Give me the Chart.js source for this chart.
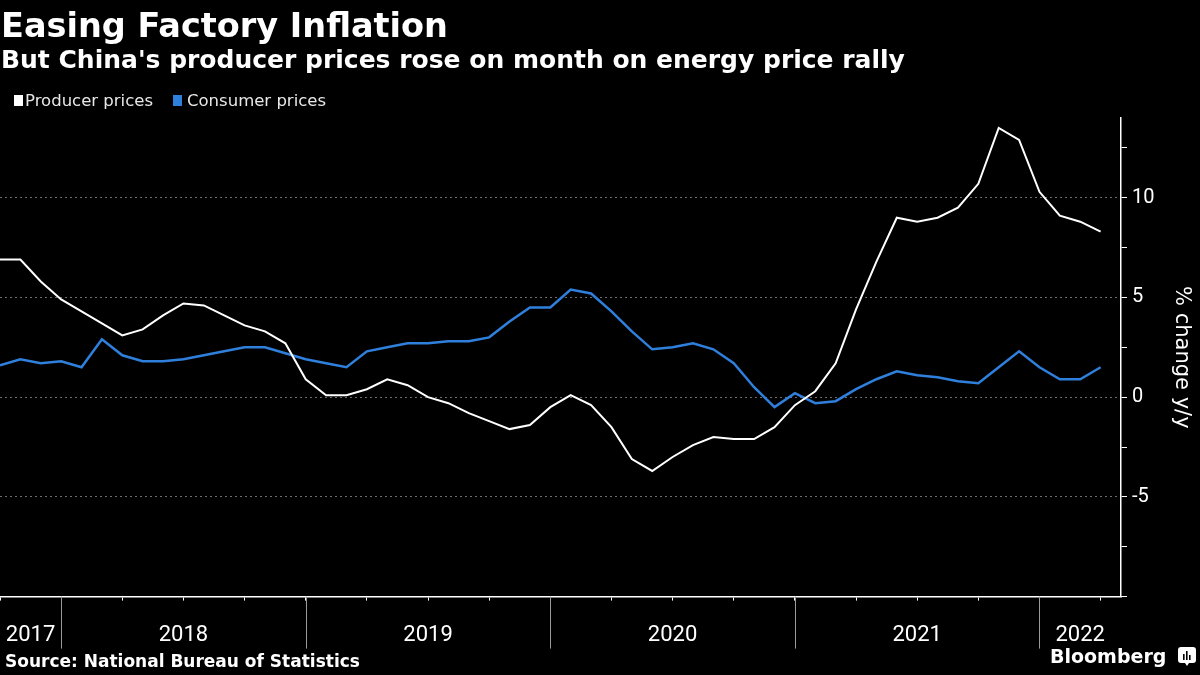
<!DOCTYPE html>
<html>
<head>
<meta charset="utf-8">
<title>Easing Factory Inflation</title>
<script src="https://cdn.jsdelivr.net/npm/chart.js@4.4.1/dist/chart.umd.min.js"></script>
<style>
  html, body { margin: 0; padding: 0; background: #000; }
  #wrap { position: relative; width: 1200px; height: 675px; overflow: hidden; background: #000; }
  #chart { position: absolute; left: 0; top: 0; }
  .txt { position: absolute; color: #fff; white-space: nowrap; }
  .title { left: 1px; top: 8.5px; font: bold 33.5px/33.5px 'DejaVu Sans', sans-serif; }
  .subtitle { left: 1px; top: 47px; font: bold 25px/25px 'DejaVu Sans', sans-serif; }
  .legend { top: 93px; font: 16.5px/16.5px 'DejaVu Sans', sans-serif; color: #e8e8e8; }
  .swatch { position: absolute; top: 95px; width: 9px; height: 11px; }
  .source { left: 5px; top: 653px; font: bold 17px/17px 'DejaVu Sans', sans-serif; }
  .brand { left: 1050px; top: 647px; font: bold 19px/19px 'DejaVu Sans', sans-serif; }
  .logo { position: absolute; left: 1178px; top: 647px; }
</style>
</head>
<body>
<div id="wrap">
  <canvas id="chart" width="1200" height="675"></canvas>
  <div class="txt title">Easing Factory Inflation</div>
  <div class="txt subtitle">But China's producer prices rose on month on energy price rally</div>
  <div class="swatch" style="left:14px; background:#fff;"></div>
  <div class="txt legend" style="left:25px;">Producer prices</div>
  <div class="swatch" style="left:173px; background:#2f80dc;"></div>
  <div class="txt legend" style="left:187px;">Consumer prices</div>
  <div class="txt source">Source: National Bureau of Statistics</div>
  <div class="txt brand">Bloomberg</div>
  <svg class="logo" width="18" height="19" viewBox="0 0 18 19">
    <path d="M3 0h12a3 3 0 0 1 3 3v10a3 3 0 0 1-3 3h-4l-2 3-2-3H3a3 3 0 0 1-3-3V3a3 3 0 0 1 3-3z" fill="#fff"/>
    <rect x="5" y="7" width="1.6" height="6" fill="#000"/>
    <rect x="8" y="4" width="1.6" height="9" fill="#000"/>
    <rect x="11" y="8" width="1.6" height="5" fill="#000"/>
  </svg>
</div>
<script>
// monthly readings, Sep 2017 .. Mar 2022
var months = [
  'Sep 2017', 'Oct 2017', 'Nov 2017', 'Dec 2017',
  'Jan 2018', 'Feb 2018', 'Mar 2018', 'Apr 2018', 'May 2018', 'Jun 2018', 'Jul 2018', 'Aug 2018', 'Sep 2018', 'Oct 2018', 'Nov 2018', 'Dec 2018',
  'Jan 2019', 'Feb 2019', 'Mar 2019', 'Apr 2019', 'May 2019', 'Jun 2019', 'Jul 2019', 'Aug 2019', 'Sep 2019', 'Oct 2019', 'Nov 2019', 'Dec 2019',
  'Jan 2020', 'Feb 2020', 'Mar 2020', 'Apr 2020', 'May 2020', 'Jun 2020', 'Jul 2020', 'Aug 2020', 'Sep 2020', 'Oct 2020', 'Nov 2020', 'Dec 2020',
  'Jan 2021', 'Feb 2021', 'Mar 2021', 'Apr 2021', 'May 2021', 'Jun 2021', 'Jul 2021', 'Aug 2021', 'Sep 2021', 'Oct 2021', 'Nov 2021', 'Dec 2021',
  'Jan 2022', 'Feb 2022', 'Mar 2022'
];
var producerPrices = [
  6.9, 6.9, 5.8, 4.9,
  4.3, 3.7, 3.1, 3.4, 4.1, 4.7, 4.6, 4.1, 3.6, 3.3, 2.7, 0.9,
  0.1, 0.1, 0.4, 0.9, 0.6, 0.0, -0.3, -0.8, -1.2, -1.6, -1.4, -0.5,
  0.1, -0.4, -1.5, -3.1, -3.7, -3.0, -2.4, -2.0, -2.1, -2.1, -1.5, -0.4,
  0.3, 1.7, 4.4, 6.8, 9.0, 8.8, 9.0, 9.5, 10.7, 13.5, 12.9, 10.3,
  9.1, 8.8, 8.3
];
var consumerPrices = [
  1.6, 1.9, 1.7, 1.8,
  1.5, 2.9, 2.1, 1.8, 1.8, 1.9, 2.1, 2.3, 2.5, 2.5, 2.2, 1.9,
  1.7, 1.5, 2.3, 2.5, 2.7, 2.7, 2.8, 2.8, 3.0, 3.8, 4.5, 4.5,
  5.4, 5.2, 4.3, 3.3, 2.4, 2.5, 2.7, 2.4, 1.7, 0.5, -0.5, 0.2,
  -0.3, -0.2, 0.4, 0.9, 1.3, 1.1, 1.0, 0.8, 0.7, 1.5, 2.3, 1.5,
  0.9, 0.9, 1.5
];
var yTickLabels = [-5, 0, 5, 10];
var yMin = -10, yMax = 14;

// x runs in months from the first reading; each point sits at its month end,
// so a year boundary falls on the December point
var xMax = months.length; // one month of room after the last reading
var yearNames = [];
var yearEnds = [];
months.forEach(function (m, i) {
  var yr = m.slice(-4);
  if (yearNames.indexOf(yr) < 0) yearNames.push(yr);
  if (m.indexOf('Dec') === 0) yearEnds.push(i);
});
var yearCenters = yearNames.map(function (yr, i) {
  var start = i === 0 ? 0 : yearEnds[i - 1];
  var end = i < yearEnds.length ? yearEnds[i] : xMax;
  return (start + end) / 2;
});

var narrow = "'Liberation Sans Narrow', 'Roboto', sans-serif";

var yearLines = {
  id: 'yearLines',
  afterDraw: function (chart) {
    var ctx = chart.ctx, x = chart.scales.x, bottom = chart.chartArea.bottom;
    ctx.save();
    ctx.strokeStyle = '#9a9a9a';
    ctx.lineWidth = 1;
    yearEnds.forEach(function (v) {
      var px = Math.round(x.getPixelForValue(v)) + 0.5;
      ctx.beginPath();
      ctx.moveTo(px, bottom);
      ctx.lineTo(px, bottom + 52);
      ctx.stroke();
    });
    ctx.restore();
  }
};

var ctx = document.getElementById('chart').getContext('2d');
var myChart = new Chart(ctx, {
  type: 'line',
  data: {
    datasets: [{
      label: 'Producer prices',
      data: producerPrices.map(function (v, i) { return { x: i, y: v }; }),
      borderColor: '#ffffff',
      borderWidth: 2,
      pointRadius: 0,
      tension: 0
    }, {
      label: 'Consumer prices',
      data: consumerPrices.map(function (v, i) { return { x: i, y: v }; }),
      borderColor: '#2f80dc',
      borderWidth: 2.5,
      pointRadius: 0,
      tension: 0
    }]
  },
  options: {
    responsive: false,
    animation: false,
    layout: { padding: { top: 118, bottom: 24, left: 0, right: 0 } },
    plugins: {
      legend: { display: false },
      tooltip: { enabled: false }
    },
    scales: {
      x: {
        type: 'linear',
        position: 'bottom',
        weight: 0,
        min: 0,
        max: xMax,
        afterBuildTicks: function (s) {
          var t = [];
          for (var v = 0; v < xMax; v += 3) t.push({ value: v });
          s.ticks = t;
        },
        grid: { drawOnChartArea: false, drawTicks: true, tickLength: 4, tickColor: '#ffffff', tickWidth: 1 },
        border: { display: true, color: '#ffffff', width: 1.5 },
        ticks: { display: false }
      },
      years: {
        type: 'linear',
        position: 'bottom',
        weight: 1,
        min: 0,
        max: xMax,
        afterBuildTicks: function (s) {
          s.ticks = yearCenters.map(function (v) { return { value: v }; });
        },
        grid: { display: true, drawOnChartArea: false, drawTicks: true, tickLength: 20, tickColor: 'rgba(0,0,0,0)' },
        border: { display: false },
        ticks: {
          color: '#ffffff',
          padding: 2,
          autoSkip: false,
          maxRotation: 0,
          font: { family: narrow, size: 22 },
          callback: function (v, i) { return yearNames[i]; }
        }
      },
      y: {
        position: 'right',
        min: yMin,
        max: yMax,
        afterBuildTicks: function (s) {
          var t = [];
          for (var v = yMin; v < yMax; v += 2.5) t.push({ value: v });
          s.ticks = t;
        },
        afterFit: function (s) { s.width = 79; },
        grid: {
          color: function (c) {
            return c.tick && yTickLabels.indexOf(c.tick.value) >= 0 ? '#6e6e6e' : 'rgba(0,0,0,0)';
          },
          lineWidth: 1,
          drawTicks: true,
          tickLength: 6,
          tickColor: '#ffffff',
          tickWidth: 1
        },
        border: { display: true, color: '#ffffff', width: 1.5, dash: [2, 3] },
        ticks: {
          color: '#ffffff',
          padding: 5,
          font: { family: narrow, size: 20 },
          callback: function (v) { return yTickLabels.indexOf(v) >= 0 ? String(v) : ''; }
        },
        title: {
          display: true,
          text: '% change y/y',
          color: '#ffffff',
          font: { family: "'DejaVu Sans', sans-serif", size: 21 },
          padding: { top: 6, bottom: 0 }
        }
      }
    }
  },
  plugins: [yearLines]
});
</script>
</body>
</html>
